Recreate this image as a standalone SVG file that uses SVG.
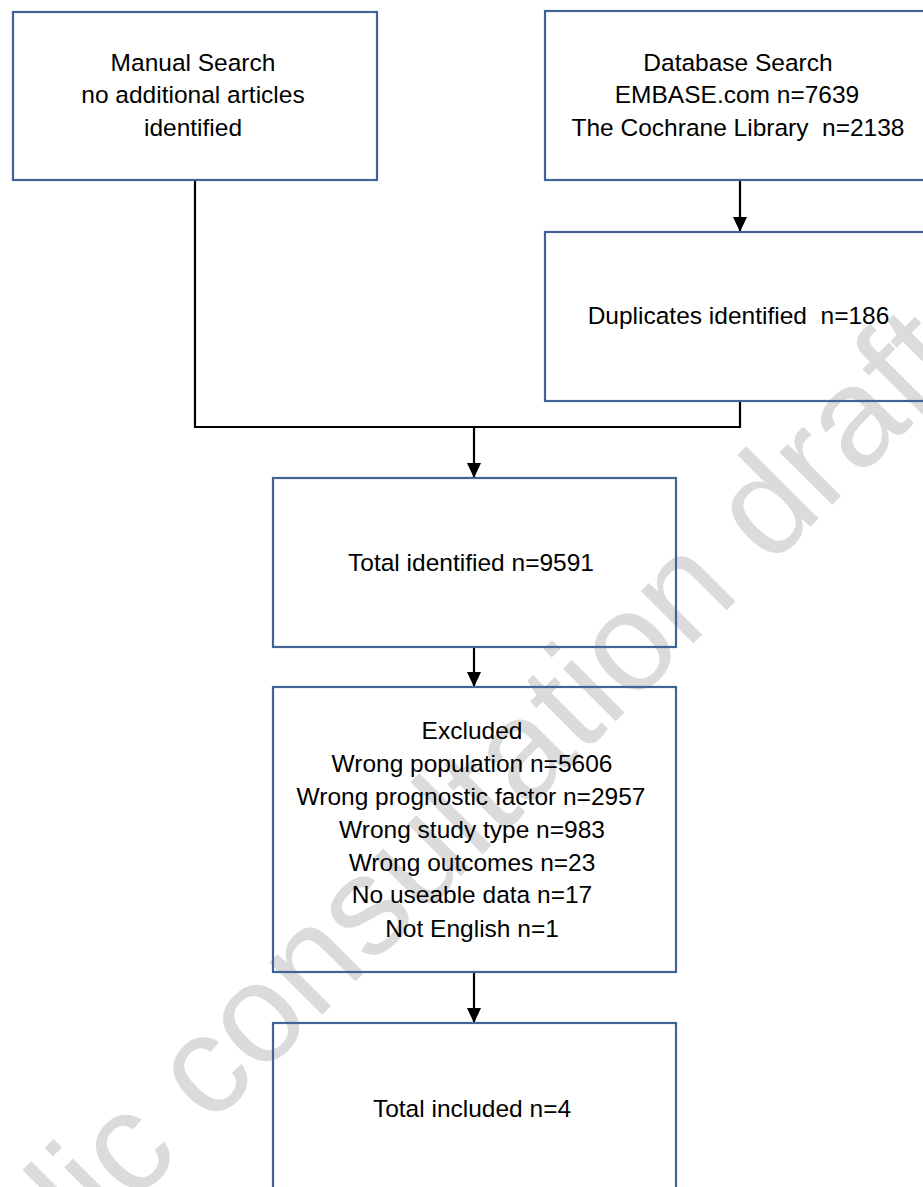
<svg xmlns="http://www.w3.org/2000/svg" width="923" height="1187" viewBox="0 0 923 1187">
  <style>
    .box { fill: none; stroke: #3f6495; stroke-width: 2.2; }
    .lbl { font-family: "Liberation Sans", Arial, sans-serif; font-size: 24.5px; fill: #000; text-anchor: middle; }
    .conn { fill: none; stroke: #000; stroke-width: 2.2; }
    .wm { font-family: "Liberation Sans", Arial, sans-serif; font-size: 141px; fill: #dbdbdb; text-anchor: middle; }
  </style>
  <defs>
    <marker id="arrow" viewBox="0 0 15 14" refX="14" refY="7" markerWidth="15" markerHeight="14" markerUnits="userSpaceOnUse" orient="auto">
      <path d="M0,0 L15,7 L0,14 z" fill="#000"/>
    </marker>
  </defs>
  <rect width="923" height="1187" fill="#fff"/>

  <text class="wm" transform="translate(440,897) rotate(-45)">Public consultation draft</text>

  <g id="connectors">
    <polyline class="conn" points="195,180 195,427 740,427 740,401"/>
    <line class="conn" x1="474" y1="427" x2="474" y2="477" marker-end="url(#arrow)"/>
    <line class="conn" x1="740" y1="180" x2="740" y2="231" marker-end="url(#arrow)"/>
    <line class="conn" x1="474" y1="647" x2="474" y2="686" marker-end="url(#arrow)"/>
    <line class="conn" x1="474" y1="972" x2="474" y2="1022" marker-end="url(#arrow)"/>
  </g>

  <g id="manual-search">
    <rect class="box" x="13" y="12" width="364" height="168"/>
    <text class="lbl" x="193" y="70.5">Manual Search</text>
    <text class="lbl" x="193" y="103">no additional articles</text>
    <text class="lbl" x="193" y="135.5">identified</text>
  </g>

  <g id="database-search">
    <rect class="box" x="545" y="11" width="390" height="169"/>
    <text class="lbl" x="738" y="70.5">Database Search</text>
    <text class="lbl" x="737" y="103">EMBASE.com n=7639</text>
    <text class="lbl" x="738" y="135.5" xml:space="preserve">The Cochrane Library  n=2138</text>
  </g>

  <g id="duplicates">
    <rect class="box" x="545" y="232" width="390" height="169"/>
    <text class="lbl" x="738.5" y="324" xml:space="preserve">Duplicates identified  n=186</text>
  </g>

  <g id="total-identified">
    <rect class="box" x="273" y="478" width="403" height="169"/>
    <text class="lbl" x="471" y="571">Total identified n=9591</text>
  </g>

  <g id="excluded">
    <rect class="box" x="273" y="687" width="403" height="285"/>
    <text class="lbl" x="472" y="739.3">Excluded</text>
    <text class="lbl" x="472" y="772">Wrong population n=5606</text>
    <text class="lbl" x="471" y="805">Wrong prognostic factor n=2957</text>
    <text class="lbl" x="472" y="837.8">Wrong study type n=983</text>
    <text class="lbl" x="472" y="870.7">Wrong outcomes n=23</text>
    <text class="lbl" x="472" y="903.4">No useable data n=17</text>
    <text class="lbl" x="472" y="936.7">Not English n=1</text>
  </g>

  <g id="total-included">
    <rect class="box" x="273" y="1023" width="403" height="169"/>
    <text class="lbl" x="472" y="1116.7">Total included n=4</text>
  </g>
</svg>
